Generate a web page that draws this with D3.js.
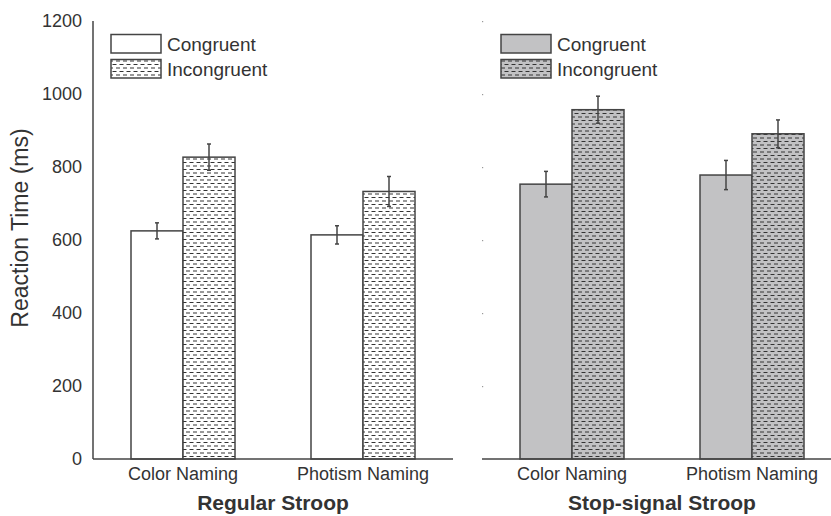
<!DOCTYPE html>
<html>
<head>
<meta charset="utf-8">
<script src="https://cdn.jsdelivr.net/npm/d3@7"></script>
<style>
  body { margin: 0; background: #fff; }
  text { font-family: "Liberation Sans", Arial, sans-serif; fill: #333; }
</style>
</head>
<body>
<svg id="chart" width="831" height="516"></svg>
<script>
// data
const categories = ["Color Naming", "Photism Naming"]
const conditions = ["Congruent", "Incongruent"]
const regularMeans = [[625, 827], [614, 733]]
const regularErr = [[22, 36], [25, 41]]
const stopMeans = [[753, 957], [778, 891]]
const stopErr = [[35, 37], [40, 38]]
const yTicks = [0, 200, 400, 600, 800, 1000, 1200]

const svg = d3.select("#chart")
const ink = "#444"

// hatch patterns: dashes over white / gray
const defs = svg.append("defs")
function hatch(id, bg){
  const p = defs.append("pattern").attr("id", id)
    .attr("patternUnits", "userSpaceOnUse").attr("width", 7).attr("height", 7)
  p.append("rect").attr("width", 7).attr("height", 7).attr("fill", bg)
  p.append("line").attr("x1", 0.5).attr("x2", 4.5).attr("y1", 1.5).attr("y2", 1.5)
    .attr("stroke", "#333").attr("stroke-width", 1)
  p.append("line").attr("x1", 4).attr("x2", 8).attr("y1", 5).attr("y2", 5)
    .attr("stroke", "#333").attr("stroke-width", 1)
  p.append("line").attr("x1", -3).attr("x2", 1).attr("y1", 5).attr("y2", 5)
    .attr("stroke", "#333").attr("stroke-width", 1)
}
hatch("hatchWhite", "#fff")
hatch("hatchGray", "#c2c2c4")

const y = d3.scaleLinear().domain([0, 1200]).range([459, 21])

const panels = [
  {title: "Regular Stroop", x: [93, 453], means: regularMeans, err: regularErr,
   fills: ["#fff", "url(#hatchWhite)"], legendX: 111, axisLine: true},
  {title: "Stop-signal Stroop", x: [482, 842], means: stopMeans, err: stopErr,
   fills: ["#c2c2c4", "url(#hatchGray)"], legendX: 501, axisLine: false}
]

panels.forEach(function(pn){
  const g = svg.append("g")
  const x0 = d3.scaleBand().domain(categories).range(pn.x)
  const x1 = d3.scaleBand().domain(conditions).range([38, 142])

  // y axis
  if(pn.axisLine){
    g.append("line").attr("x1", pn.x[0]).attr("x2", pn.x[0])
      .attr("y1", y(1200)).attr("y2", y(0)).attr("stroke", ink).attr("stroke-width", 1.5)
    g.selectAll(".ytick").data(yTicks).enter().append("text")
      .attr("x", pn.x[0] - 11).attr("y", d => y(d)).attr("dy", "0.35em")
      .attr("text-anchor", "end").style("font-size", "18px").text(d => d)
  } else {
    g.selectAll(".ydot").data(yTicks.slice(1)).enter().append("rect")
      .attr("x", pn.x[0]).attr("y", d => y(d)).attr("width", 1.2).attr("height", 1.2)
      .attr("fill", "#999")
  }

  // bars
  categories.forEach(function(cat, i){
    conditions.forEach(function(cond, j){
      const bx = x0(cat) + x1(cond)
      g.append("rect").attr("x", bx).attr("y", y(pn.means[i][j]))
        .attr("width", x1.bandwidth()).attr("height", y(0) - y(pn.means[i][j]))
        .attr("fill", pn.fills[j]).attr("stroke", ink).attr("stroke-width", 1.5)
      const cx = bx + x1.bandwidth() / 2
      const lo = y(pn.means[i][j] - pn.err[i][j]), hi = y(pn.means[i][j] + pn.err[i][j])
      g.append("line").attr("x1", cx).attr("x2", cx).attr("y1", lo).attr("y2", hi)
        .attr("stroke", ink).attr("stroke-width", 1.5)
      ;[lo, hi].forEach(v => g.append("line").attr("x1", cx - 2).attr("x2", cx + 2)
        .attr("y1", v).attr("y2", v).attr("stroke", ink).attr("stroke-width", 1.5))
    })
    g.append("text").attr("x", x0(cat) + x0.bandwidth() / 2).attr("y", 480)
      .attr("text-anchor", "middle").style("font-size", "18px").text(cat)
  })

  // x axis line
  g.append("line").attr("x1", pn.x[0]).attr("x2", Math.min(pn.x[1], 831))
    .attr("y1", y(0)).attr("y2", y(0)).attr("stroke", ink).attr("stroke-width", 1.5)

  // panel title
  g.append("text").attr("x", (pn.x[0] + pn.x[1]) / 2).attr("y", 510)
    .attr("text-anchor", "middle").style("font-size", "21px").style("font-weight", "bold")
    .text(pn.title)

  // legend
  conditions.forEach(function(cond, j){
    const ly = 34.5 + j * 25
    g.append("rect").attr("x", pn.legendX).attr("y", ly).attr("width", 50).attr("height", 18.5)
      .attr("fill", pn.fills[j]).attr("stroke", ink).attr("stroke-width", 1.5)
    g.append("text").attr("x", pn.legendX + 56).attr("y", ly + 9.5).attr("dy", "0.35em")
      .style("font-size", "19px").text(cond)
  })
})

// y axis title
svg.append("text").attr("transform", "translate(28,228) rotate(-90)")
  .attr("text-anchor", "middle").style("font-size", "23px").text("Reaction Time (ms)")
</script>
</body>
</html>
